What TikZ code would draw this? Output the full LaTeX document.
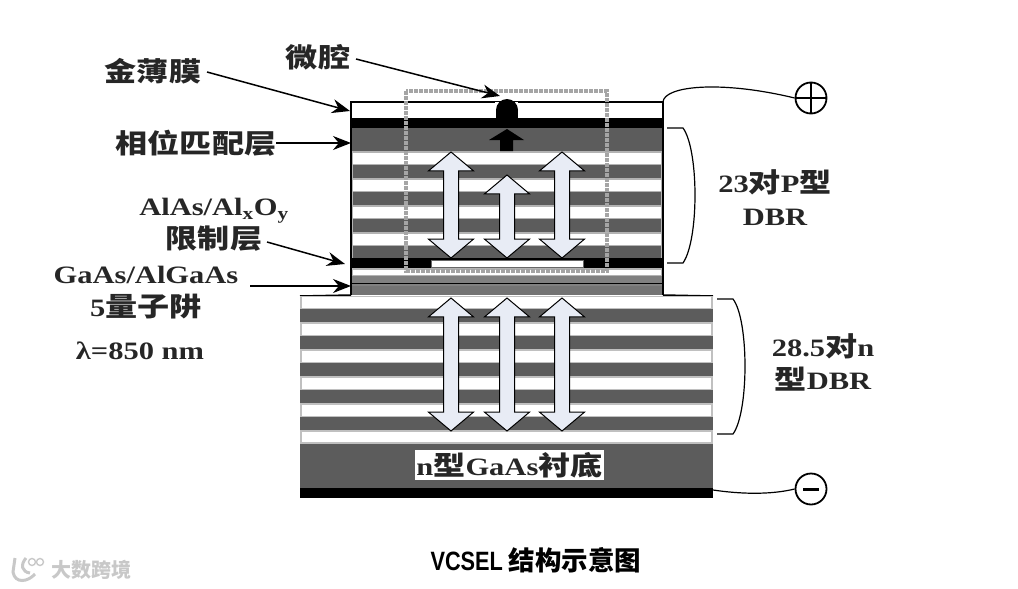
\documentclass[tikz,border=0pt]{standalone}
\usepackage{fontspec}
\setmainfont[FakeStretch=1.22]{Liberation Serif}
\newfontfamily\cjk[FakeStretch=1.2,Scale=1.07]{Noto Sans CJK SC}
\newfontfamily\capfont[FakeStretch=0.82]{Liberation Sans}
\newfontfamily\capcjk{Noto Sans CJK SC}
\newfontfamily\markcjk{Noto Sans CJK SC}
\usetikzlibrary{
    shapes.arrows,
    arrows.meta,
    positioning,
    calc
}
\definecolor{Ldark}{RGB}{92, 92, 92}
\definecolor{Lmid}{RGB}{128, 128, 128}
\definecolor{Lframe}{RGB}{165, 165, 165}
\definecolor{Lpale}{RGB}{232, 236, 245}
\definecolor{Lmark}{RGB}{200, 200, 200}
\tikzset{
    lbl/.style={font=\bfseries\fontsize{25}{33}\selectfont, text=black!85, align=center, inner sep=0pt},
    larr/.style={-{Stealth[length=18pt, width=14pt]}, line width=1.5pt, black},
    wire/.style={line width=1.2pt, black},
    dbl/.style={
        double arrow, draw=black, line width=1pt, fill=Lpale, rotate=90,
        inner sep=7pt, double arrow head extend=15pt,
        double arrow tip angle=100, anchor=center
    },
    pole/.style={circle, draw=black, line width=1.8pt, fill=white, minimum size=31pt, inner sep=0pt},
}
\begin{document}
\begin{tikzpicture}[x=1pt, y=-1pt]
    \useasboundingbox (0,0) rectangle (1018,589);

    % upper mesa
    \draw [line width=1.5pt, fill=white] (351,102) rectangle (663,119);
    \fill [black] (351,118) rectangle (663,128);
    \fill [Lmid!60] (351,128) rectangle (663,295);
    \fill [Ldark] (351,128) rectangle (663,151);
    \foreach \y in {153,180,207,234} {
        \fill [white] (353,\y) rectangle (661,\y+11);
        \fill [Ldark] (353,\y+12) rectangle (661,\y+25);
    }
    \fill [black] (351,258) rectangle (663,268);
    \fill [white] (353,270) rectangle (661,275);
    \fill [Lmid] (351,276) rectangle (663,295);
    \draw [line width=0.8pt] (351,283) -- (663,283);
    \fill [Lmid!90!black] (351,286) rectangle (663,295);
    \draw [line width=1.5pt] (351,102) -- (351,295) (663,102) -- (663,295);
    \fill [white, draw=black!60, line width=0.4pt] (431,260.5) rectangle (583,267.5);

    % lower stack
    \draw [line width=1.5pt] (300,296) -- (351,295) (663,295) -- (713,296);
    \fill [Lmid!50] (300,296) rectangle (713,488);
    \foreach \y in {297,324,351,378,405} {
        \fill [white] (302,\y) rectangle (711,\y+11);
        \fill [Ldark] (300,\y+12) rectangle (713,\y+25);
    }
    \fill [white] (302,432) rectangle (711,442);
    \fill [Ldark] (300,444) rectangle (713,488);
    \fill [black] (300,488) rectangle (713,498);

    % cavity
    \fill [white] (495,102) rectangle (518,118);
    \fill [black] (507,110) circle (11);
    \fill [black] (496,110) rectangle (518,119);
    \draw [Lframe, line width=3.5pt, dash pattern=on 4pt off 1pt] (406,91) rectangle (607,271);
    \fill [black] (500,151) -- (500,140) -- (489,140) -- (507,129) -- (524,140) -- (513,140) -- (513,151) -- cycle;

    % arrows
    \node [dbl, minimum height=106pt] (a1) at (451,205) {};
    \node [dbl, minimum height=83pt] (a2) at (507,216.5) {};
    \node [dbl, minimum height=106pt] (a3) at (562,205) {};
    \node [dbl, minimum height=133pt] (b1) at (451,364.5) {};
    \node [dbl, minimum height=133pt] (b2) at (507,364.5) {};
    \node [dbl, minimum height=133pt] (b3) at (562,364.5) {};

    % labels on the left
    \node [lbl] (gold) at (153,71) {\cjk 金薄膜};
    \node [lbl] (cav) at (318,57) {\cjk 微腔};
    \node [lbl] (phase) at (196,143) {\cjk 相位匹配层};
    \node [lbl] (ox) at (214,225) {AlAs/Al\textsubscript{x}O\textsubscript{y}\\{\cjk 限制层}};
    \node [lbl] (qw) at (146,293) {GaAs/AlGaAs\\5{\cjk 量子阱}};
    \node [lbl] (lam) at (140,351) {λ=850 nm};

    \coordinate (goldstart) at (207,72);
    \coordinate (goldend) at (350,111);
    \coordinate (cavstart) at (356,59);
    \coordinate (cavend) at (500,96);
    \coordinate (phaseend) at (351,143);
    \coordinate (oxstart) at (267,242);
    \coordinate (oxend) at (345,264);
    \coordinate (qwstart) at (250,286);
    \coordinate (qwend) at (351,286);
    \draw [larr] (goldstart) -- (goldend);
    \draw [larr] (cavstart) -- (cavend);
    \draw [larr] (phase.east) -- (phaseend);
    \draw [larr] (oxstart) -- (oxend);
    \draw [larr] (qwstart) -- (qwend);

    % right side
    \node [lbl] (ptop) at (775,198) {23{\cjk 对}P{\cjk 型}\\DBR};
    \node [lbl] (nbot) at (823,362) {28.5{\cjk 对}n\\{\cjk 型}DBR};
    \draw [wire] (667,128) -- (683,128) .. controls (699,150) and (699,240) .. (683,263) -- (667,263);
    \draw [wire] (717,299) -- (733,299) .. controls (749,320) and (749,412) .. (733,434) -- (717,434);

    \node [pole] (plus) at (811,98) {};
    \node [pole] (minus) at (811,489) {};
    \draw [line width=1.8pt] (plus.west) -- (plus.east) (plus.north) -- (plus.south);
    \draw [line width=3pt] (minus.center) ++(-8,0) -- ++(16,0);
    \coordinate (ptopw) at (663,102);
    \coordinate (nbotw) at (713,490);
    \draw [wire] (ptopw) .. controls (664,86) and (720,80) .. (plus.west);
    \draw [wire] (nbotw) .. controls (740,494) and (770,495) .. (minus.west);

    % substrate label
    \node [lbl, fill=white, minimum width=189pt, minimum height=30pt] (sub) at (509.5,465) {n{\cjk 型}GaAs{\cjk 衬底}};

    % caption and mark
    \node [font=\bfseries\fontsize{26.5}{30}\selectfont, inner sep=0pt] (cap) at (536,560) {\capfont VCSEL \capcjk 结构示意图};
    \node [font=\bfseries\fontsize{20}{23}\selectfont, text=Lmark, inner sep=0pt] (mark) at (91,570) {\markcjk 大数跨境};
    \draw [Lmark, line width=3pt] (15,558) -- (13,572) .. controls (15,584) and (28,582) .. (35,574) (26,558) .. controls (20,565) and (22,572) .. (30,573);
    \draw [Lmark, line width=1.4pt] (32,562) circle (3.5) (40,562) circle (3.5);
\end{tikzpicture}
\end{document}
